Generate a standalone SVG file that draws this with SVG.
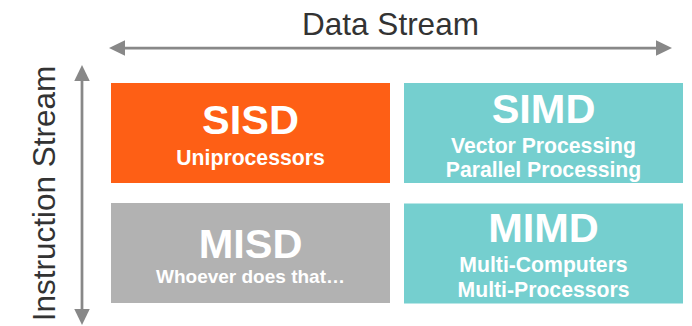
<svg xmlns="http://www.w3.org/2000/svg" width="692" height="326" viewBox="0 0 692 326">
  <style>
    .axis { stroke: #888888; stroke-width: 2.75; fill: none; }
    .axis-label { font-family: "Liberation Sans", Arial, sans-serif; font-size: 31.5px; fill: #333333; text-anchor: middle; }
    .title { font-family: "Liberation Sans", Arial, sans-serif; font-weight: bold; font-size: 41.5px; fill: #ffffff; text-anchor: middle; }
    .sub { font-family: "Liberation Sans", Arial, sans-serif; font-weight: bold; font-size: 21.2px; fill: #ffffff; text-anchor: middle; }
    .orange { fill: #FE5F15; }
    .teal { fill: #75CFCF; }
    .gray { fill: #B2B2B2; }
  </style>
  <defs>
    <marker id="head" markerUnits="userSpaceOnUse" markerWidth="16" markerHeight="16" refX="0" refY="7.75" orient="auto-start-reverse" viewBox="0 0 16 15.5">
      <path d="M0,0 L16,7.75 L0,15.5 Z" fill="#888888"/>
    </marker>
  </defs>

  <rect width="692" height="326" fill="#ffffff"/>

  <!-- axes -->
  <g id="connectors">
    <line class="axis" x1="125" y1="48" x2="656" y2="48" marker-start="url(#head)" marker-end="url(#head)"/>
    <line class="axis" x1="82" y1="81" x2="82" y2="309" marker-start="url(#head)" marker-end="url(#head)"/>
  </g>

  <g id="axis-labels">
    <text class="axis-label" x="390.5" y="35">Data Stream</text>
    <text class="axis-label" transform="translate(55,193.5) rotate(-90)">Instruction Stream</text>
  </g>

  <!-- quadrants -->
  <g id="sisd">
    <rect class="orange" x="111" y="83" width="279" height="100"/>
    <text class="title" x="250.5" y="133.5">SISD</text>
    <text class="sub" x="250.5" y="165">Uniprocessors</text>
  </g>

  <g id="simd">
    <rect class="teal" x="404" y="83" width="279" height="100"/>
    <text class="title" x="543.5" y="123">SIMD</text>
    <text class="sub" x="543.5" y="153">Vector Processing</text>
    <text class="sub" x="543.5" y="176.5">Parallel Processing</text>
  </g>

  <g id="misd">
    <rect class="gray" x="111" y="203" width="279" height="100"/>
    <text class="title" x="250.5" y="257.5">MISD</text>
    <text class="sub" x="250.5" y="283" style="font-size:19px">Whoever does that…</text>
  </g>

  <g id="mimd">
    <rect class="teal" x="404" y="203.5" width="279" height="100"/>
    <text class="title" x="543.5" y="242">MIMD</text>
    <text class="sub" x="543.5" y="272">Multi-Computers</text>
    <text class="sub" x="543.5" y="296.5">Multi-Processors</text>
  </g>
</svg>
